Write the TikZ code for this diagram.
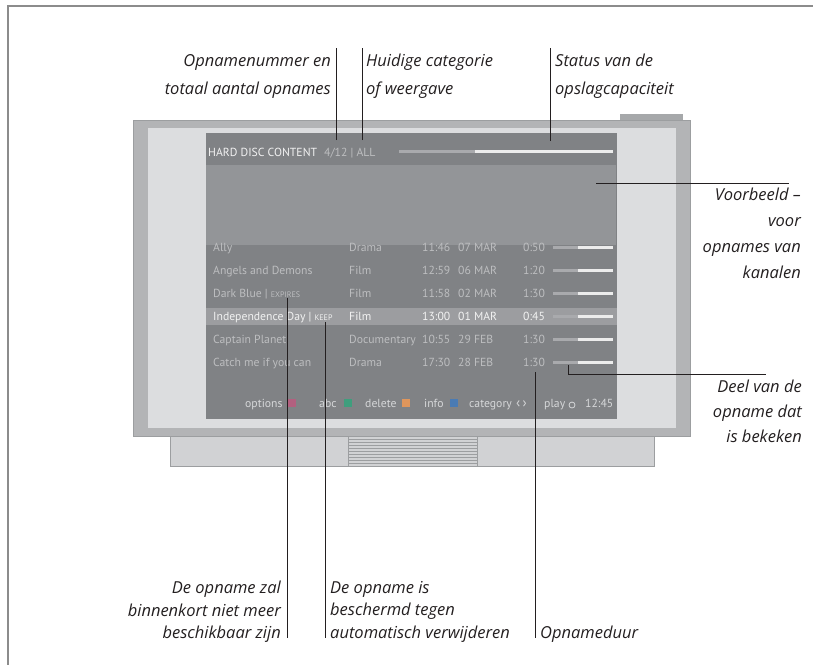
\documentclass[tikz,border=0pt]{standalone}
\usepackage{fontspec}
\newfontfamily\capfont{Open Sans}
\newfontfamily\osdfont{PT Sans}
\usetikzlibrary{positioning}

\definecolor{framegray}{HTML}{8C8C8C}
\definecolor{tvbody}{HTML}{B3B4B6}
\definecolor{tvedge}{HTML}{9C9EA0}
\definecolor{tvpanel}{HTML}{DCDDDF}
\definecolor{hump}{HTML}{A6A8AA}
\definecolor{standgray}{HTML}{D1D2D4}
\definecolor{osdbg}{HTML}{808285}
\definecolor{osdpreview}{HTML}{939598}
\definecolor{osdhigh}{HTML}{9C9DA0}
\definecolor{osdgrey}{HTML}{BDBEC0}
\definecolor{osdwhite}{HTML}{F2F2F2}
\definecolor{osdfoot}{HTML}{D6D7D9}
\definecolor{bardark}{HTML}{A9AAAD}
\definecolor{barlight}{HTML}{ECECEC}
\definecolor{keypink}{HTML}{B2607F}
\definecolor{keygreen}{HTML}{3F9E7D}
\definecolor{keyorange}{HTML}{DF965C}
\definecolor{keyblue}{HTML}{4A7BB4}
\definecolor{captext}{HTML}{231F20}

\newcommand\osdtag[1]{{\fontsize{8}{9}\selectfont #1}}

\begin{document}
\begin{tikzpicture}[x=1pt, y=-1pt,
    lead/.style={draw=captext, line width=0.7pt},
    callout/.style={font=\capfont\itshape\fontsize{16.5}{#1}\selectfont, inner sep=0pt, text=captext},
    osd/.style={font=\osdfont\fontsize{11.7}{13}\selectfont, inner sep=0pt, anchor=base west},
    key/.style={minimum width=8.5pt, minimum height=8pt, inner sep=0pt},
    bar/.style={line width=3pt}
  ]
  \useasboundingbox (0,0) rectangle (813,665);
  \draw[framegray, line width=1.5pt] (813,6) -- (8,6) -- (8,665);

  % television
  \fill[hump] (620,114) rectangle (683,121);
  \filldraw[fill=tvbody, draw=tvedge] (133,120) rectangle (690,436);
  \fill[tvpanel] (148,128) rectangle (676,428);
  \filldraw[fill=standgray, draw=tvedge] (170,436) rectangle (654,466);
  \filldraw[fill=standgray, draw=tvedge] (348,436) rectangle (477,466);
  \foreach \y in {439,442,...,463}
    \draw[tvedge, line width=0.6pt] (348,\y) -- (477,\y);

  % screen
  \fill[osdbg] (206,133) rectangle (617,419);
  \fill[osdpreview] (206,165) rectangle (616,245);
  \fill[osdhigh] (206,308) rectangle (617,325);

  \node[osd, text=osdwhite] (title) at (208,156) {HARD DISC CONTENT};
  \node[osd, text=osdgrey] (cnt) at (324,156) {4/12 | ALL};
  \draw[bar, bardark] (399,151) -- (475,151);
  \draw[bar, barlight] (475,151) -- (613,151);

  \foreach \ttl/\gen/\tm/\dt/\dur/\tc [count=\i] in {
      Ally/Drama/11:46/07 MAR/0:50/osdgrey,
      Angels and Demons/Film/12:59/06 MAR/1:20/osdgrey,
      Dark Blue | \osdtag{EXPIRES}/Film/11:58/02 MAR/1:30/osdgrey,
      Independence Day | \osdtag{KEEP}/Film/13:00/01 MAR/0:45/osdwhite,
      Captain Planet/Documentary/10:55/29 FEB/1:30/osdgrey,
      Catch me if you can/Drama/17:30/28 FEB/1:30/osdgrey}{
    \pgfmathsetmacro\yb{228+23*\i}
    \node[osd, text=\tc] (ttl\i) at (213,\yb) {\ttl};
    \node[osd, text=\tc] (gen\i) at (349,\yb) {\gen};
    \node[osd, text=\tc] (tm\i) at (422,\yb) {\tm};
    \node[osd, text=\tc] (dt\i) at (458,\yb) {\dt};
    \node[osd, text=\tc] (dur\i) at (523,\yb) {\dur};
    \draw[bar, bardark] (553,\yb-4) -- (578,\yb-4);
    \draw[bar, barlight] (578,\yb-4) -- (613,\yb-4);
  }

  \node[osd, text=osdfoot] (opt) at (245,407) {options};
  \node[key, fill=keypink] (kpink) at (291.5,403) {};
  \node[osd, text=osdfoot] (abc) at (319,407) {abc};
  \node[key, fill=keygreen] (kgreen) at (348,403) {};
  \node[osd, text=osdfoot] (del) at (365,407) {delete};
  \node[key, fill=keyorange] (korange) at (406,403) {};
  \node[osd, text=osdfoot] (info) at (424,407) {info};
  \node[key, fill=keyblue] (kblue) at (454,403) {};
  \node[osd, text=osdfoot] (cat) at (469,407) {category};
  \node[osd, text=osdfoot, font=\osdfont\fontsize{14}{14}\selectfont] (arr) at (516,407) {‹\,›};
  \node[osd, text=osdfoot] (play) at (544,407) {play};
  \draw[osdfoot, line width=0.8pt] (572,405) circle (3);
  \node[osd, text=osdfoot] (clock) at (585,407) {12:45};

  % callouts
  \node[callout=28, anchor=north east, align=right] (numTxt) at (331,54) {Opnamenummer en\\totaal aantal opnames};
  \node[callout=28, anchor=north west, align=left] (catTxt) at (366,54) {Huidige categorie\\of weergave};
  \node[callout=28, anchor=north west, align=left] (storTxt) at (555,54) {Status van de\\opslagcapaciteit};
  \node[callout=26, anchor=north east, align=right] (prevTxt) at (801,188) {Voorbeeld –\\voor\\opnames van\\kanalen};
  \node[callout=25, anchor=north east, align=right] (seenTxt) at (802,380) {Deel van de\\opname dat\\is bekeken};
  \node[callout=22.5, anchor=north east, align=right] (expTxt) at (281,581) {De opname zal\\binnenkort niet meer\\beschikbaar zijn};
  \node[callout=22.5, anchor=north west, align=left] (keepTxt) at (330,581) {De opname is\\beschermd tegen\\automatisch verwijderen};
  \node[callout=22.5, anchor=north west, align=left] (durTxt) at (540,626) {Opnameduur};

  \coordinate (cntPt) at (336,140);    \coordinate (cntTop) at (336,48);
  \coordinate (catPt) at (362.5,140);  \coordinate (catTop) at (362.5,48);
  \coordinate (storPt) at (550,141);   \coordinate (storTop) at (550,48);
  \coordinate (prevPt) at (596,183);   \coordinate (prevEnd) at (789,183);
  \coordinate (seenPt) at (568,365);   \coordinate (seenEnd) at (766,374);
  \coordinate (expPt) at (287,298);    \coordinate (expEnd) at (287,638);
  \coordinate (keepPt) at (325,322);   \coordinate (keepEnd) at (325,638);
  \coordinate (durPt) at (535,372);    \coordinate (durEnd) at (535,638);

  \draw[lead] (cntPt) -- (cntTop);
  \draw[lead] (catPt) -- (catTop);
  \draw[lead] (storPt) -- (storTop);
  \draw[lead] (prevPt) -- (prevEnd);
  \draw[lead] (seenPt) |- (seenEnd);
  \draw[lead] (expPt) -- (expEnd);
  \draw[lead] (keepPt) -- (keepEnd);
  \draw[lead] (durPt) -- (durEnd);
\end{tikzpicture}
\end{document}
